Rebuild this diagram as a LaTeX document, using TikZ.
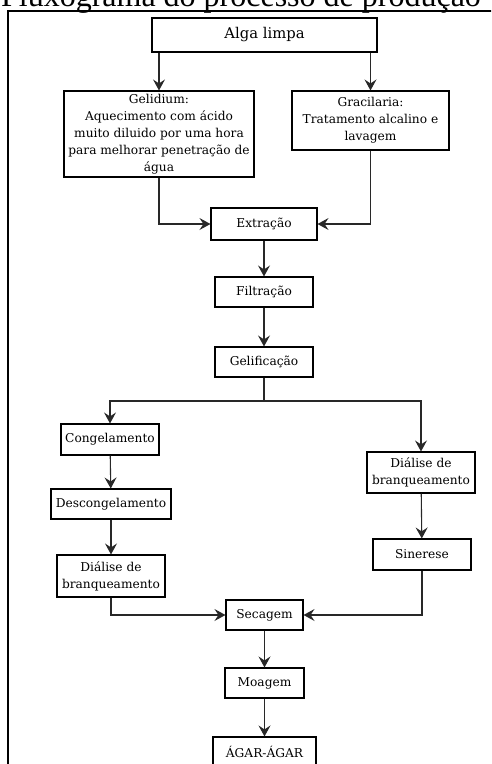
\documentclass[tikz,border=0pt]{standalone}
\usepackage{fontspec}
\setmainfont{Liberation Serif}
\newfontfamily\boxFont{DejaVu Serif}
\usepackage{tikz}
\usetikzlibrary{positioning,arrows.meta}
\tikzstyle{flowchart} = [x = 1pt, y = -1pt]
\definecolor{lineColor}{RGB}{40,40,40}
\tikzstyle{stepBox} = [draw=black, line width=1.1pt, fill=white, align=center, inner sep=1pt, font=\boxFont\fontsize{12.2}{17}\selectfont]
\tikzstyle{flowArrow} = [color=lineColor, line width=1.1pt, -{Stealth[length=11pt, width=12pt, inset=4pt]}]
\tikzstyle{frameLine} = [color=black, line width=1.3pt]
\newcommand{\stepNode}[6]{\node [stepBox, minimum width=#4, minimum height=#5] (#1) at (#2,#3) {#6};}

\begin{document}
\begin{tikzpicture}[flowchart]
  \useasboundingbox (0,0) rectangle (491,764);
  \clip (0,0) rectangle (491,764);

  \node [anchor=base, font=\fontsize{32}{34}\selectfont] (title) at (241,6) {Fluxograma do processo de produção};
  \draw [frameLine] (8,800) |- (520,11);

  % primeira etapa
  \stepNode{alga}{264.5}{35}{225pt}{34pt}{\fontsize{14.8}{17}\selectfont Alga limpa}
  \stepNode{gelidium}{159}{134}{190pt}{86pt}{Gelidium:\\Aquecimento com ácido\\muito diluido por uma hora\\para melhorar penetração de\\água}
  \stepNode{gracilaria}{370.5}{120.5}{157pt}{59pt}{Gracilaria:\\Tratamento alcalino e\\lavagem}

  \stepNode{extracao}{264}{224}{106pt}{32pt}{Extração}
  \stepNode{filtracao}{264}{292}{98pt}{30pt}{Filtração}
  \stepNode{gelificacao}{264}{362}{98pt}{30pt}{Gelificação}

  % ramos
  \stepNode{congel}{110}{439.5}{98pt}{31pt}{Congelamento}
  \stepNode{descongel}{111}{504}{120pt}{30pt}{Descongelamento}
  \stepNode{dialiseLeft}{111}{576}{108pt}{42pt}{Diálise de\\branqueamento}
  \stepNode{dialiseRight}{421}{472.5}{108pt}{41pt}{Diálise de\\branqueamento}
  \stepNode{sinerese}{422}{554.5}{98pt}{31pt}{Sinerese}

  \stepNode{secagem}{264.5}{615}{77pt}{30pt}{Secagem}
  \stepNode{moagem}{264.5}{683}{79pt}{30pt}{Moagem}
  \stepNode{agar}{264.5}{752}{103pt}{30pt}{ÁGAR-ÁGAR}

  \coordinate (split) at (264,401);

  \draw [flowArrow] (alga.south -| gelidium.north) -- (gelidium.north);
  \draw [flowArrow] (alga.south -| gracilaria.north) -- (gracilaria.north);
  \draw [flowArrow] (gelidium.south) |- (extracao.west);
  \draw [flowArrow] (gracilaria.south) |- (extracao.east);
  \draw [flowArrow] (extracao) -- (filtracao);
  \draw [flowArrow] (filtracao) -- (gelificacao);
  \draw [color=lineColor, line width=1.1pt] (gelificacao.south) -- (split);
  \draw [flowArrow] (split) -| (congel.north);
  \draw [flowArrow] (split) -| (dialiseRight.north);
  \draw [flowArrow] (congel) -- (descongel);
  \draw [flowArrow] (descongel) -- (dialiseLeft);
  \draw [flowArrow] (dialiseRight) -- (sinerese);
  \draw [flowArrow] (dialiseLeft.south) |- (secagem.west);
  \draw [flowArrow] (sinerese.south) |- (secagem.east);
  \draw [flowArrow] (secagem) -- (moagem);
  \draw [flowArrow] (moagem) -- (agar);
\end{tikzpicture}
\end{document}
